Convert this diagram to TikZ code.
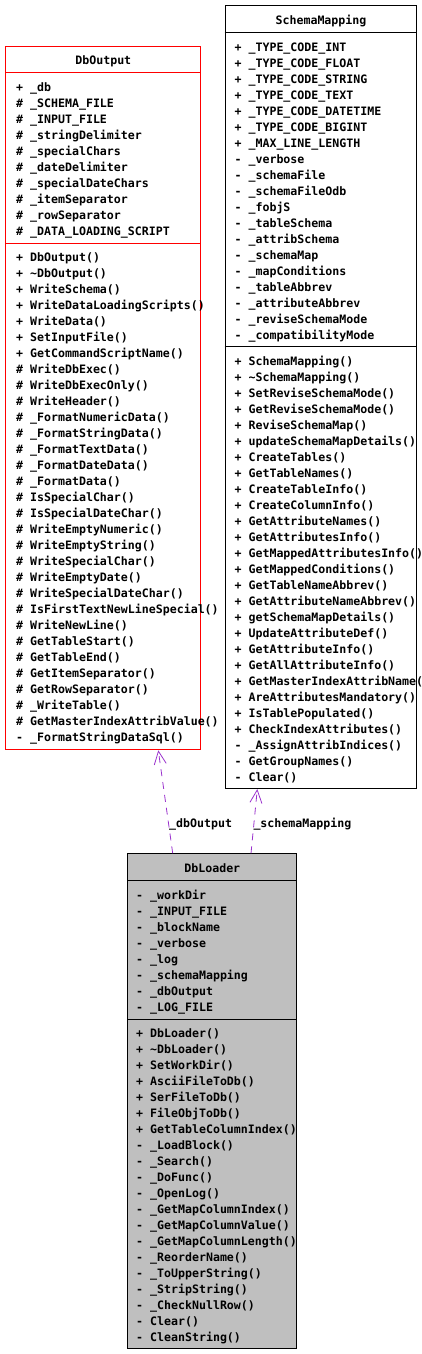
\documentclass[tikz,border=0pt]{standalone}
\usepackage{fontspec}
\setmonofont{DejaVu Sans Mono}
\usetikzlibrary{arrows.meta}

\definecolor{assoc}{RGB}{154,50,205}
\definecolor{loadergray}{RGB}{191,191,191}

\begin{document}
\begin{tikzpicture}[x=1pt,y=-1pt]
        \tikzstyle{every node}=[inner sep=0pt,text height=10pt,text depth=1pt,
          font=\ttfamily\bfseries\fontsize{11.6}{14}\selectfont];
        \tikzstyle{member}=[anchor=west];
        \tikzstyle{classbox}=[rectangle,draw=black,line width=1pt,anchor=north west];
        \tikzstyle{sep}=[line width=1pt];
        \tikzstyle{uses}=[draw=assoc,line width=0.8pt,dash pattern=on 7pt off 6pt,
          -{Straight Barb[length=13pt,width=12pt,line width=0.8pt]}];

          \useasboundingbox (0,0) rectangle (421,1354);

          % class boxes
          \node[classbox,draw=red,minimum width=195pt,minimum height=703.6pt] (DbOutput) at (5.3,45.7) {};
          \node[classbox,fill=white,minimum width=191.6pt,minimum height=782.7pt] (SchemaMapping) at (224.7,5.3) {};
          \node[classbox,fill=loadergray,minimum width=169pt,minimum height=495pt] (DbLoader) at (127.3,853.3) {};

          \draw[sep,red] ([yshift=-26.6pt]DbOutput.north west) -- ([yshift=-26.6pt]DbOutput.north east);
          \draw[sep,red] ([yshift=-197.6pt]DbOutput.north west) -- ([yshift=-197.6pt]DbOutput.north east);
          \draw[sep] ([yshift=-27pt]SchemaMapping.north west) -- ([yshift=-27pt]SchemaMapping.north east);
          \draw[sep] ([yshift=-341.4pt]SchemaMapping.north west) -- ([yshift=-341.4pt]SchemaMapping.north east);
          \draw[sep] ([yshift=-27pt]DbLoader.north west) -- ([yshift=-27pt]DbLoader.north east);
          \draw[sep] ([yshift=-166pt]DbLoader.north west) -- ([yshift=-166pt]DbLoader.north east);

          \node (tOut) at ([yshift=-14.3pt]DbOutput.north) {DbOutput};
          \node (tMap) at ([yshift=-14.3pt]SchemaMapping.north) {SchemaMapping};
          \node (tLoad) at ([yshift=-14.3pt]DbLoader.north) {DbLoader};

          % DbOutput
          \foreach \t [count=\i] in {+ \_db,\# \_SCHEMA\_FILE,\# \_INPUT\_FILE,
            \# \_stringDelimiter,\# \_specialChars,\# \_dateDelimiter,
            \# \_specialDateChars,\# \_itemSeparator,\# \_rowSeparator,
            \# \_DATA\_LOADING\_SCRIPT}{
            \node[member] (oa\i) at (16,70.7+16*\i) {\t};
          }
          \foreach \t [count=\i] in {+ DbOutput(),+ \textasciitilde DbOutput(),+ WriteSchema(),
            + WriteDataLoadingScripts(),+ WriteData(),+ SetInputFile(),
            + GetCommandScriptName(),\# WriteDbExec(),\# WriteDbExecOnly(),
            \# WriteHeader(),\# \_FormatNumericData(),\# \_FormatStringData(),
            \# \_FormatTextData(),\# \_FormatDateData(),\# \_FormatData(),
            \# IsSpecialChar(),\# IsSpecialDateChar(),\# WriteEmptyNumeric(),
            \# WriteEmptyString(),\# WriteSpecialChar(),\# WriteEmptyDate(),
            \# WriteSpecialDateChar(),\# IsFirstTextNewLineSpecial(),
            \# WriteNewLine(),\# GetTableStart(),\# GetTableEnd(),
            \# GetItemSeparator(),\# GetRowSeparator(),\# \_WriteTable(),
            \# GetMasterIndexAttribValue(),- \_FormatStringDataSql()}{
            \node[member] (om\i) at (16,240.7+16*\i) {\t};
          }

          % SchemaMapping
          \foreach \t [count=\i] in {+ \_TYPE\_CODE\_INT,+ \_TYPE\_CODE\_FLOAT,
            + \_TYPE\_CODE\_STRING,+ \_TYPE\_CODE\_TEXT,+ \_TYPE\_CODE\_DATETIME,
            + \_TYPE\_CODE\_BIGINT,+ \_MAX\_LINE\_LENGTH,- \_verbose,
            - \_schemaFile,- \_schemaFileOdb,- \_fobjS,- \_tableSchema,
            - \_attribSchema,- \_schemaMap,- \_mapConditions,- \_tableAbbrev,
            - \_attributeAbbrev,- \_reviseSchemaMode,- \_compatibilityMode}{
            \node[member] (sa\i) at (234.4,30.7+16*\i) {\t};
          }
          \foreach \t [count=\i] in {+ SchemaMapping(),+ \textasciitilde SchemaMapping(),
            + SetReviseSchemaMode(),+ GetReviseSchemaMode(),+ ReviseSchemaMap(),
            + updateSchemaMapDetails(),+ CreateTables(),+ GetTableNames(),
            + CreateTableInfo(),+ CreateColumnInfo(),+ GetAttributeNames(),
            + GetAttributesInfo(),+ GetMappedAttributesInfo(),
            + GetMappedConditions(),+ GetTableNameAbbrev(),
            + GetAttributeNameAbbrev(),+ getSchemaMapDetails(),
            + UpdateAttributeDef(),+ GetAttributeInfo(),+ GetAllAttributeInfo(),
            + GetMasterIndexAttribName(),+ AreAttributesMandatory(),
            + IsTablePopulated(),+ CheckIndexAttributes(),
            - \_AssignAttribIndices(),- GetGroupNames(),- Clear()}{
            \node[member] (sm\i) at (234.4,344.7+16*\i) {\t};
          }

          % DbLoader
          \foreach \t [count=\i] in {- \_workDir,- \_INPUT\_FILE,- \_blockName,
            - \_verbose,- \_log,- \_schemaMapping,- \_dbOutput,- \_LOG\_FILE}{
            \node[member] (la\i) at (136,879+16*\i) {\t};
          }
          \foreach \t [count=\i] in {+ DbLoader(),+ \textasciitilde DbLoader(),+ SetWorkDir(),
            + AsciiFileToDb(),+ SerFileToDb(),+ FileObjToDb(),
            + GetTableColumnIndex(),- \_LoadBlock(),- \_Search(),- \_DoFunc(),
            - \_OpenLog(),- \_GetMapColumnIndex(),- \_GetMapColumnValue(),
            - \_GetMapColumnLength(),- \_ReorderName(),- \_ToUpperString(),
            - \_StripString(),- \_CheckNullRow(),- Clear(),- CleanString()}{
            \node[member] (lm\i) at (136,1017.3+16*\i) {\t};
          }

          % associations
          \draw[uses] ([xshift=45.4pt]DbLoader.north west) -- ([xshift=153pt]DbOutput.south west);
          \draw[uses] ([xshift=123.7pt]DbLoader.north west) -- ([xshift=32.6pt]SchemaMapping.south west);

          \node[member] (lOut) at (169,822.7) {\_dbOutput};
          \node[member] (lMap) at (253.3,822.7) {\_schemaMapping};
      \end{tikzpicture}
\end{document}
